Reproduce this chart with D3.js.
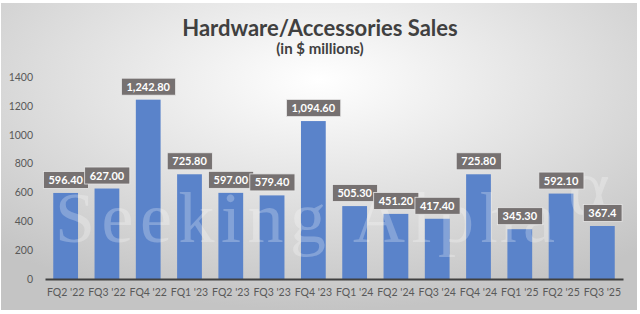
<!DOCTYPE html>
<html>
<head>
<meta charset="utf-8">
<script src="https://cdn.jsdelivr.net/npm/d3@7"></script>
<style>
  body { margin: 0; background: #fff; }
  svg { display: block; }
</style>
</head>
<body>
<div id="chart"></div>
<script>
var quarters = ["FQ2 '22", "FQ3 '22", "FQ4 '22", "FQ1 '23", "FQ2 '23", "FQ3 '23", "FQ4 '23",
                "FQ1 '24", "FQ2 '24", "FQ3 '24", "FQ4 '24", "FQ1 '25", "FQ2 '25", "FQ3 '25"];
var sales = [596.4, 627.0, 1242.8, 725.8, 597.0, 579.4, 1094.6,
             505.3, 451.2, 417.4, 725.8, 345.3, 592.1, 367.4];
var salesLabels = ["596.40", "627.00", "1,242.80", "725.80", "597.00", "579.40", "1,094.60",
                   "505.30", "451.20", "417.40", "725.80", "345.30", "592.10", "367.4"];
var yTicks = [0, 200, 400, 600, 800, 1000, 1200, 1400];

var width = 640, height = 314;
var font = "Lato, 'Open Sans', sans-serif";

var svg = d3.select("#chart").append("svg")
    .attr("width", width)
    .attr("height", height);

// background gradient, light in the top middle, gray towards the edges
var grad = svg.append("defs").append("radialGradient")
    .attr("id", "bg")
    .attr("cx", "50%").attr("cy", "25%").attr("r", "75%");
grad.append("stop").attr("offset", "0%").attr("stop-color", "#ffffff");
grad.append("stop").attr("offset", "100%").attr("stop-color", "#c4c4c4");

svg.append("rect")
    .attr("x", 1).attr("y", 3)
    .attr("width", 636).attr("height", 307)
    .attr("fill", "url(#bg)");

svg.append("text")
    .attr("x", 320).attr("y", 36)
    .attr("text-anchor", "middle")
    .attr("font-family", font)
    .attr("font-weight", "bold")
    .attr("font-size", 22)
    .attr("fill", "#404040")
    .text("Hardware/Accessories Sales");

svg.append("text")
    .attr("x", 320).attr("y", 54)
    .attr("text-anchor", "middle")
    .attr("font-family", font)
    .attr("font-weight", "bold")
    .attr("font-size", 15)
    .attr("fill", "#404040")
    .text("(in $ millions)");

var x = d3.scaleBand().domain(quarters).range([45, 623]).paddingInner(0.4).paddingOuter(0.2);
var y = d3.scaleLinear().domain([0, 1400]).range([279, 77]);

var yAxis = svg.append("g")
    .attr("transform", "translate(45,0)")
    .call(d3.axisLeft(y).tickValues(yTicks).tickSize(0).tickPadding(12).tickFormat(d3.format("d")));
yAxis.select(".domain").remove();
yAxis.selectAll("text")
    .attr("font-family", font)
    .attr("font-size", 10.5)
    .attr("fill", "#595959");

svg.selectAll("rect.bar")
    .data(sales)
    .enter().append("rect")
    .attr("class", "bar")
    .attr("x", function(d, i) { return x(quarters[i]); })
    .attr("y", function(d) { return y(d); })
    .attr("width", x.bandwidth())
    .attr("height", function(d) { return y(0) - y(d); })
    .attr("fill", "#5a83ca");

// watermark over the bars
var wm = svg.append("g")
    .attr("font-family", "'Liberation Serif', 'DejaVu Serif', serif")
    .attr("fill", "#ffffff")
    .attr("fill-opacity", 0.25);
wm.append("text")
    .attr("x", 55).attr("y", 242)
    .attr("font-size", 72)
    .attr("textLength", 500)
    .attr("lengthAdjust", "spacing")
    .text("Seeking Alpha");
wm.append("text")
    .attr("x", 568).attr("y", 214)
    .attr("font-size", 80)
    .text("\u03B1");

var xAxis = svg.append("g")
    .attr("transform", "translate(0," + y(0) + ")")
    .call(d3.axisBottom(x).tickSize(0).tickPadding(10));
xAxis.select(".domain").attr("stroke", "#404040").attr("stroke-width", 2);
xAxis.selectAll("text")
    .attr("font-family", font)
    .attr("font-size", 10.5)
    .attr("fill", "#595959");

// value labels in dark boxes
var labels = svg.selectAll("g.lbl")
    .data(sales)
    .enter().append("g")
    .attr("class", "lbl")
    .attr("transform", function(d, i) {
        return "translate(" + (x(quarters[i]) + x.bandwidth() / 2) + "," + (y(d) - 13) + ")";
    });

labels.append("text")
    .attr("text-anchor", "middle")
    .attr("dy", "0.36em")
    .attr("font-family", font)
    .attr("font-weight", "bold")
    .attr("font-size", 11)
    .attr("fill", "#ffffff")
    .text(function(d, i) { return salesLabels[i]; });

labels.each(function() {
    var g = d3.select(this);
    var bb = g.select("text").node().getBBox();
    g.insert("rect", "text")
        .attr("x", bb.x - 5)
        .attr("y", -8.5)
        .attr("width", bb.width + 10)
        .attr("height", 17)
        .attr("fill", "#767171")
        .attr("stroke", "#e8e8e8")
        .attr("stroke-width", 0.8);
});
</script>
</body>
</html>
